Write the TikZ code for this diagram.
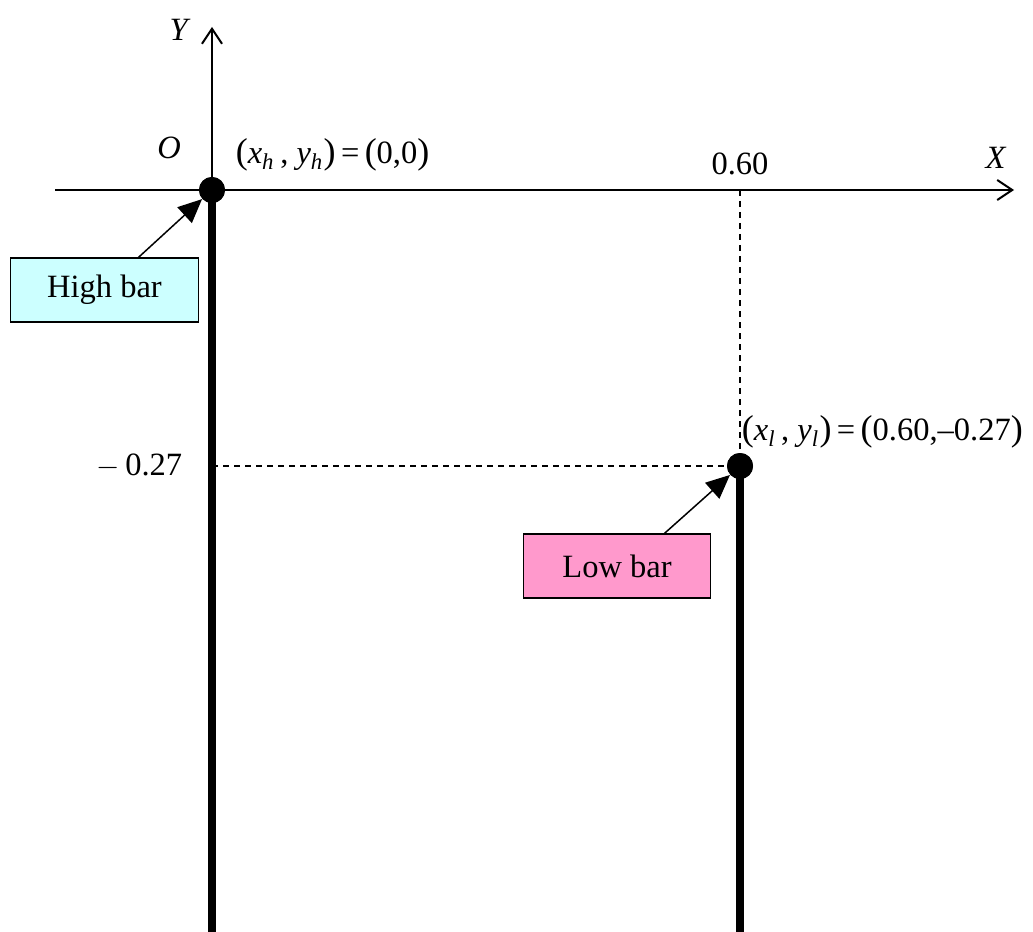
\documentclass[tikz,border=0pt]{standalone}
\usepackage{fontspec}
\setmainfont{Liberation Serif}
\usetikzlibrary{arrows.meta,positioning,calc}
\definecolor{highfill}{RGB}{204,255,255}
\definecolor{lowfill}{RGB}{255,153,204}
\tikzset{
  axis/.style={line width=0.8pt,-{Straight Barb[length=6pt,width=8pt]}},
  bar/.style={line width=3.2pt},
  guide/.style={line width=0.6pt,dash pattern=on 2.4pt off 2pt},
  joint/.style={circle,fill,inner sep=0pt,minimum size=10.4pt},
  tag/.style={draw,line width=0.5pt,minimum width=75pt,minimum height=25.6pt},
  pointer/.style={line width=0.6pt,-{Triangle[length=9.5pt,width=8.5pt]}}
}
\begin{document}
\begin{tikzpicture}[x=0.4pt,y=-0.4pt,font=\fontsize{13}{15}\selectfont]
    \useasboundingbox (0,0) rectangle (1033,932);

    % bars hanging down
    \coordinate (hbot) at (212,932);
    \coordinate (lbot) at (740,932);
    \node[joint] (H) at (212,190) {};
    \node[joint] (L) at (740,466) {};

    % axes
    \coordinate (xstart) at (55,190);
    \coordinate (xend) at (1014,190);
    \coordinate (ytop) at (212,27);
    \draw[axis] (xstart) -- (xend);
    \draw[axis] (H.center) -- (ytop);
    \node (ylab) at (180,30) {\textit{Y}};
    \node (xlab) at (996,158) {\textit{X}};
    \node (olab) at (169,148) {\textit{O}};

    % guide lines to the low bar
    \coordinate (xtick) at (740,190);
    \coordinate (ytick) at (212,466);
    \draw[guide] (xtick) -- (L.center);
    \draw[guide] (ytick) -- (L.center);
    \node (xval) at (740,164) {0.60};
    \node[anchor=east] (yval) at (191,466) {$-$\,0.27};

    \draw[bar] (H.center) -- (hbot);
    \draw[bar] (L.center) -- (lbot);
    \node[joint] at (H) {};
    \node[joint] at (L) {};

    % point labels
    \node[anchor=west] (hpos) at (227,155)
        {{\Large(}\textit{x}\textsubscript{\textit{h}}\,, \textit{y}\textsubscript{\textit{h}}{\Large)}\,=\,{\Large(}0,0{\Large)}};
    \node[anchor=west] (lpos) at (733,432)
        {{\Large(}\textit{x}\textsubscript{\textit{l}}\,, \textit{y}\textsubscript{\textit{l}}{\Large)}\,=\,{\Large(}0.60,--0.27{\Large)}};

    % tags
    \node[tag,fill=highfill] (hb) at (104.5,290) {High bar};
    \node[tag,fill=lowfill] (lb) at (617,566) {Low bar};
    \draw[pointer] ([xshift=13.6pt]hb.north) -- (H);
    \draw[pointer] ([xshift=19pt]lb.north) -- (L);
\end{tikzpicture}
\end{document}
